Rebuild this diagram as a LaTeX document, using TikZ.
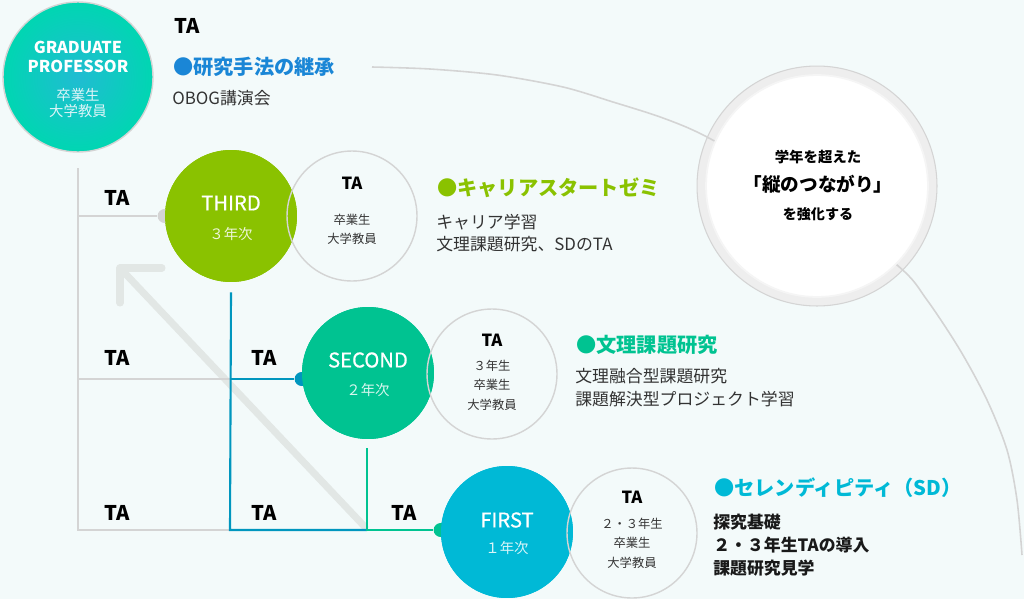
\documentclass[tikz,border=0pt]{standalone}
\usepackage{fontspec}
\setmainfont{Noto Sans CJK JP}
\newfontfamily\titlefont[FakeBold=0.7]{Noto Sans CJK JP}
\usepackage{tikz}
\usetikzlibrary{calc}

\definecolor{bgcol}{RGB}{243,250,250}
\definecolor{thirdgreen}{RGB}{138,194,0}
\definecolor{secondgreen}{RGB}{0,195,145}
\definecolor{firstcyan}{RGB}{0,185,214}
\definecolor{gradblue}{RGB}{26,134,214}
\definecolor{gradinner}{RGB}{32,188,210}
\definecolor{gradouter}{RGB}{0,214,178}
\definecolor{linegray}{RGB}{212,212,212}
\definecolor{lineblue}{RGB}{0,150,190}
\definecolor{arrowgray}{RGB}{226,231,229}
\definecolor{ringgray}{RGB}{238,238,238}
\definecolor{textgray}{RGB}{51,51,51}

\tikzset{
  yearcircle/.style={circle,inner sep=0pt,minimum size=2.64cm,fill=#1},
  tacircle/.style={circle,inner sep=0pt,minimum size=2.6cm,draw=linegray,line width=0.8pt},
  joint/.style={circle,inner sep=0pt,minimum size=0.28cm,fill=#1},
  wire/.style={line width=1.2pt,#1},
  tamark/.style={font=\fontsize{11.5}{13}\selectfont\bfseries},
  yeartitle/.style={text=white,font=\titlefont\fontsize{11.5}{13}\selectfont},
  yearsub/.style={text=white!85!#1,font=\fontsize{8.2}{10}\selectfont},
  tatitle/.style={font=\fontsize{9.5}{11}\selectfont\bfseries},
  tasub/.style={text=textgray,align=center,font=\fontsize{7}{11}\selectfont},
  headline/.style={anchor=west,inner sep=0pt,text=#1,font=\fontsize{11.5}{13}\selectfont\bfseries},
  desc/.style={anchor=west,inner sep=0pt,text=textgray,align=left,font=\fontsize{9.6}{13}\selectfont},
}

\begin{document}
\begin{tikzpicture}[x=0.02cm,y=-0.02cm]
  \fill[bgcol] (0,0) rectangle (1024,599);
  \useasboundingbox (0,0) rectangle (1024,599);

  % big ring on the right
  \node[circle,inner sep=0pt,minimum size=4.8cm,fill=ringgray,draw=linegray,line width=0.6pt] (ring) at (817,186) {};
  \draw[linegray,line width=0.9pt] plot[smooth] coordinates {(372,67) (430,69) (497,75) (563,87) (613,102) (663,118) (707,137) (790,185) (897,265) (927,300) (960,350) (987,400) (1007,450) (1017,500) (1022,555)};
  \node[circle,inner sep=0pt,minimum size=4.44cm,fill=white,draw=ringgray!60!white,line width=1pt] (unity) at (817,186) {};
  \node[font=\fontsize{8.2}{10}\selectfont\bfseries] (unityone) at (818,157) {学年を超えた};
  \node[font=\fontsize{10.6}{12}\selectfont\bfseries] (unitytwo) at (818,184) {「縦のつながり」};
  \node[font=\fontsize{8}{10}\selectfont\bfseries] (unitythree) at (818,214) {を強化する};

  % arrow
  \draw[arrowgray,line width=4pt,line cap=round,line join=round] (365,527) -- (120,268);
  \draw[arrowgray,line width=4pt,line cap=round,line join=round] (162,268) -- (120,268) -- (120,303);

  % circles
  \node[circle,inner sep=0pt,minimum size=3cm,inner color=gradinner,outer color=gradouter,draw=linegray,line width=0.8pt] (grad) at (78,77) {};
  \node[yearcircle=thirdgreen] (third) at (231,216) {};
  \node[yearcircle=secondgreen] (second) at (368,373) {};
  \node[yearcircle=firstcyan] (first) at (507,532) {};

  \coordinate (spinetop) at (78,168);
  \coordinate (spinebot) at (78,530);
  \coordinate (rowone) at (78,216);
  \coordinate (rowtwo) at (78,379);
  \coordinate (bmid) at (230,379);
  \coordinate (bcorner) at (230,530);
  \coordinate (gcorner) at (367,530);

  \node[joint=linegray] (jthird) at (third.west) {};
  \node[joint=lineblue] (jsecond) at (second.west |- bmid) {};
  \node[joint=secondgreen] (jfirst) at (first.west |- gcorner) {};

  \draw[wire=linegray] (spinetop) -- (spinebot) -- (bcorner);
  \draw[wire=linegray] (rowtwo) -- (bmid);
  \draw[wire=linegray] (rowone) -- (jthird);
  \draw[wire=lineblue] ($(third.south)+(0,10)$) -- (bcorner) -- (gcorner);
  \draw[wire=lineblue] (bmid) -- (jsecond);
  \draw[wire=secondgreen] ($(second.south)+(-1,9)$) -- (gcorner) -- (jfirst);

  % redraw circles over joints
  \node[yearcircle=thirdgreen] at (third) {};
  \node[yearcircle=secondgreen] at (second) {};
  \node[yearcircle=firstcyan] at (first) {};

  \node[tacircle] (tathird) at (352,216) {};
  \node[tacircle] (tasecond) at (492,374) {};
  \node[tacircle] (tafirst) at (632,533) {};

  % labels on the lines
  \node[tamark] (lbla) at (117,198) {TA};
  \node[tamark] (lblb) at (117,358) {TA};
  \node[tamark] (lblc) at (264,358) {TA};
  \node[tamark] (lbld) at (117,513) {TA};
  \node[tamark] (lble) at (264,513) {TA};
  \node[tamark] (lblf) at (404,513) {TA};

  % graduate
  \node[text=white,align=center,font=\fontsize{9.3}{10.5}\selectfont\bfseries] (gradtitle) at (78,57) {GRADUATE\\PROFESSOR};
  \node[text=white!85!gradinner,align=center,font=\fontsize{8.2}{9}\selectfont] (gradsub) at (78,103) {卒業生\\大学教員};
  \node[tamark] (gradta) at (187,26) {TA};
  \node[headline=gradblue] (gradhead) at (173,67) {●研究手法の継承};
  \node[desc] (graddesc) at (172,98) {OBOG講演会};

  % third
  \node[yeartitle] (thirdtitle) at (231,203) {THIRD};
  \node[yearsub=thirdgreen] (thirdsub) at (231,234) {３年次};
  \node[tatitle] (tathirdtitle) at (352,183) {TA};
  \node[tasub] (tathirdsub) at (352,229) {卒業生\\大学教員};
  \node[headline=thirdgreen] (thirdhead) at (437,188) {●キャリアスタートゼミ};
  \node[desc] (thirddesc) at (436,233) {キャリア学習\\文理課題研究、SDのTA};

  % second
  \node[yeartitle] (secondtitle) at (368,360) {SECOND};
  \node[yearsub=secondgreen] (secondsub) at (368,390) {２年次};
  \node[tatitle] (tasecondtitle) at (492,340) {TA};
  \node[tasub] (tasecondsub) at (492,385) {３年生\\卒業生\\大学教員};
  \node[headline=secondgreen] (secondhead) at (576,345) {●文理課題研究};
  \node[desc] (seconddesc) at (575,388) {文理融合型課題研究\\課題解決型プロジェクト学習};

  % first
  \node[yeartitle] (firsttitle) at (507,520) {FIRST};
  \node[yearsub=firstcyan] (firstsub) at (507,548) {１年次};
  \node[tatitle] (tafirsttitle) at (632,497) {TA};
  \node[tasub] (tafirstsub) at (632,543) {２・３年生\\卒業生\\大学教員};
  \node[headline=firstcyan] (firsthead) at (714,488) {●セレンディピティ（SD）};
  \node[desc,text=black!90,font=\fontsize{9.6}{13}\selectfont\bfseries] (firstdesc) at (713,545) {探究基礎\\２・３年生TAの導入\\課題研究見学};
\end{tikzpicture}
\end{document}
